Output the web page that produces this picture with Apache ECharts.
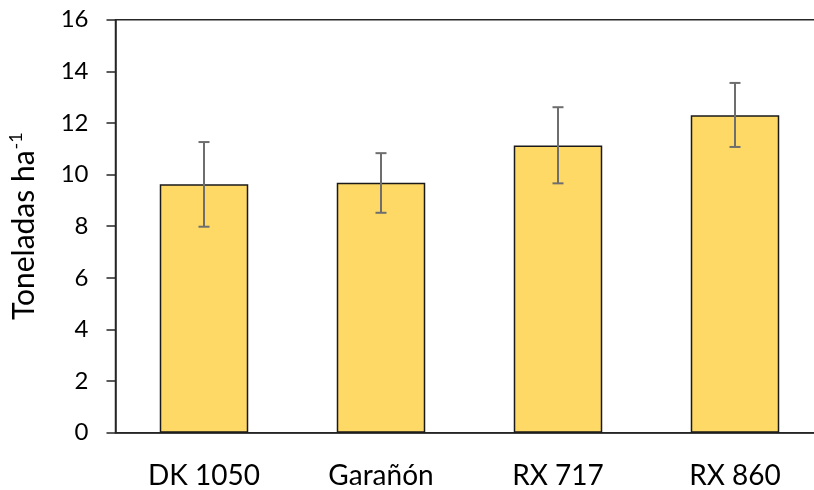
<!DOCTYPE html>
<html>
<head>
<meta charset="utf-8">
<script src="https://cdn.jsdelivr.net/npm/echarts@6/dist/echarts.min.js"></script>
<style>
  html, body { margin: 0; padding: 0; background: #fff; }
  #chart { width: 814px; height: 490px; }
</style>
</head>
<body>
<div id="chart"></div>
<script>
// 品种与产量数据（吨/公顷）
const categories = ['DK 1050', 'Garañón', 'RX 717', 'RX 860'];
const means = [9.63, 9.68, 11.13, 12.30];
const errLow = [7.98, 8.52, 9.66, 11.07];
const errHigh = [11.26, 10.83, 12.61, 13.55];
const yTicks = [0, 2, 4, 6, 8, 10, 12, 14, 16];

const chart = echarts.init(document.getElementById('chart'));

// 误差线数据：[类别索引, 下限, 上限]
const errData = categories.map((c, i) => [i, errLow[i], errHigh[i]]);

const option = {
    animation: false,
    textStyle: { fontFamily: 'Lato' },
    grid: {
        left: 115.5,
        top: 19.7,
        bottom: 57.3,
        width: 708,
        outerBoundsMode: 'none',
        show: true,
        borderColor: '#262626',
        borderWidth: 1.5
    },
    xAxis: {
        type: 'category',
        data: categories,
        axisLine: { lineStyle: { color: '#262626', width: 1.5 } },
        axisTick: { show: false },
        axisLabel: { color: '#000', fontSize: 28, margin: 29, fontFamily: 'Lato' }
    },
    yAxis: {
        type: 'value',
        min: yTicks[0],
        max: yTicks[yTicks.length - 1],
        interval: 2,
        name: '{a|Toneladas ha}{s|-1}',
        nameLocation: 'middle',
        nameGap: 74,
        nameTextStyle: {
            rich: {
                a: { fontSize: 30, color: '#000', fontFamily: 'Lato' },
                s: { fontSize: 18, color: '#000', fontFamily: 'Lato', verticalAlign: 'top', padding: [0, 0, 16, 1] }
            }
        },
        axisLine: { show: true, lineStyle: { color: '#262626', width: 1.5 } },
        axisTick: { show: true, inside: false, length: 9, lineStyle: { color: '#262626', width: 1.5 } },
        axisLabel: { color: '#000', fontSize: 24, margin: 27, fontFamily: 'Lato' },
        splitLine: { show: false }
    },
    series: [
        {
            type: 'bar',
            data: means,
            barWidth: '50%',
            itemStyle: { color: '#FFD966', borderColor: '#1a1a1a', borderWidth: 1.5 }
        },
        {
            // 误差线
            type: 'custom',
            data: errData,
            z: 10,
            renderItem: function (params, api) {
                const x = api.value(0);
                const lo = api.coord([x, api.value(1)]);
                const hi = api.coord([x, api.value(2)]);
                const cap = 5.5;
                const style = { stroke: '#6e6e6e', lineWidth: 2 };
                return {
                    type: 'group',
                    children: [
                        { type: 'line', shape: { x1: lo[0], y1: lo[1], x2: hi[0], y2: hi[1] }, style: style },
                        { type: 'line', shape: { x1: hi[0] - cap, y1: hi[1], x2: hi[0] + cap, y2: hi[1] }, style: style },
                        { type: 'line', shape: { x1: lo[0] - cap, y1: lo[1], x2: lo[0] + cap, y2: lo[1] }, style: style }
                    ]
                };
            }
        }
    ]
};

chart.setOption(option);
</script>
</body>
</html>
